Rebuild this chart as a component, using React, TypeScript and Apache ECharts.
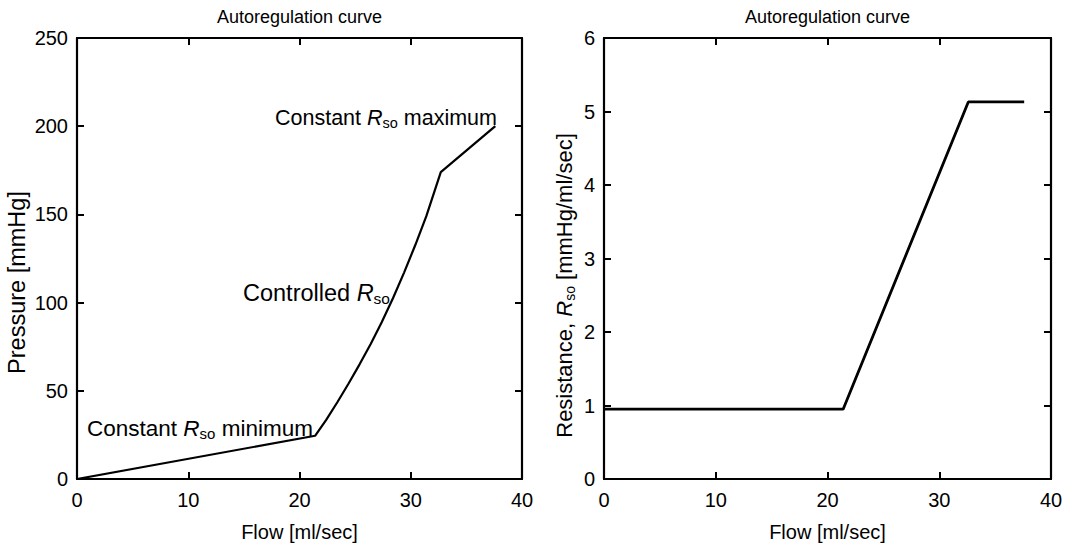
import React, { useEffect, useRef } from "react";
import * as echarts from "echarts";

const FLOW_LEFT = [0, 21.4, 22.4, 23.4, 24.4, 25.4, 26.4, 27.4, 28.4, 29.4, 30.4, 31.4, 32.7, 37.6];
const PRESSURE = [0, 24.5, 33.5, 43.5, 54, 65, 76.5, 89, 102.5, 117, 132.5, 149, 174, 200];
const FLOW_RIGHT = [0, 21.4, 32.6, 37.6];
const RESISTANCE = [0.95, 0.95, 5.13, 5.13];
const X_MIN = 0, X_MAX = 40, X_STEP = 10;
const P_MIN = 0, P_MAX = 250, P_STEP = 50;
const R_MIN = 0, R_MAX = 6, R_STEP = 1;
const TITLES = ["Autoregulation curve", "Autoregulation curve"];

const FONT = "'Liberation Sans', Arial, Helvetica, sans-serif";
const TICK_FS = 20;
const NAME_FS = 20;
const TITLE_FS = 18;

const makeRich = (fs: number, sub: number) => ({
  i: { fontStyle: "italic", fontSize: fs, fontFamily: FONT, color: "#000", lineHeight: fs + 4 },
  s: { fontSize: sub, fontFamily: FONT, color: "#000", lineHeight: sub + 1, verticalAlign: "bottom" },
  n: { fontSize: fs, fontFamily: FONT, color: "#000", lineHeight: fs + 4 },
});

function axisBase(extra: any) {
  return {
    axisLine: { show: true, onZero: false, lineStyle: { color: "#000", width: 2.2 } },
    axisTick: { show: true, inside: true, length: 7, lineStyle: { color: "#000", width: 2 } },
    splitLine: { show: false },
    ...extra,
  };
}

export default function App() {
  const ref = useRef<HTMLDivElement>(null);
  useEffect(() => {
    if (!ref.current) return;
    const chart = echarts.init(ref.current, undefined, { renderer: "svg" });
    const xa = (grid: number, pos: string, labels: boolean) =>
      axisBase({
        type: "value",
        gridIndex: grid,
        position: pos,
        min: X_MIN,
        max: X_MAX,
        interval: X_STEP,
        axisLabel: { show: labels, color: "#000", fontSize: TICK_FS, fontFamily: FONT, margin: 11 },
        name: labels ? "Flow [ml/sec]" : "",
        nameLocation: "middle",
        nameGap: 43,
        nameTextStyle: { color: "#000", fontSize: NAME_FS, fontFamily: FONT },
      });
    const ya = (
      grid: number, pos: string, labels: boolean, min: number, max: number, step: number,
      name: string, gap: number, fs: number, shift: number
    ) =>
      axisBase({
        type: "value",
        gridIndex: grid,
        position: pos,
        min,
        max,
        interval: step,
        axisLabel: { show: labels, color: "#000", fontSize: TICK_FS, fontFamily: FONT, margin: 9 },
        name: labels ? name : "",
        nameLocation: "middle",
        nameRotate: 90,
        nameGap: gap,
        nameTextStyle: {
          color: "#000",
          fontSize: fs,
          fontFamily: FONT,
          padding: [0, shift, 0, 0],
          rich: makeRich(fs, 14),
        },
      });
    const option: any = {
      animation: false,
      backgroundColor: "#fff",
      title: TITLES.map((t, i) => ({
        text: t,
        left: i === 0 ? 299.5 : 827.5,
        top: 8,
        textAlign: "center",
        padding: 0,
        textStyle: { color: "#000", fontSize: TITLE_FS, fontWeight: "normal", fontFamily: FONT },
      })),
      grid: [
        { left: 77, top: 38, width: 445, height: 442, show: false },
        { left: 604, top: 38, width: 447, height: 442, show: false },
      ],
      xAxis: [xa(0, "bottom", true), xa(0, "top", false), xa(1, "bottom", true), xa(1, "top", false)],
      yAxis: [
        ya(0, "left", true, P_MIN, P_MAX, P_STEP, "Pressure [mmHg]", 48, 23.5, 48),
        ya(0, "right", false, P_MIN, P_MAX, P_STEP, "", 0, 20, 0),
        ya(1, "left", true, R_MIN, R_MAX, R_STEP, "{n|Resistance, }{i|R}{s|so}{n| [mmHg/ml/sec]}", 27, 22, 54),
        ya(1, "right", false, R_MIN, R_MAX, R_STEP, "", 0, 20, 0),
      ],
      series: [
        {
          type: "line",
          xAxisIndex: 0,
          yAxisIndex: 0,
          data: FLOW_LEFT.map((q, i) => [q, PRESSURE[i]]),
          showSymbol: false,
          lineStyle: { color: "#000", width: 2.2 },
        },
        {
          type: "line",
          xAxisIndex: 2,
          yAxisIndex: 2,
          data: FLOW_RIGHT.map((q, i) => [q, RESISTANCE[i]]),
          showSymbol: false,
          lineStyle: { color: "#000", width: 2.8 },
        },
      ],
      graphic: [
        { type: "text", x: 497, y: 118, style: { text: "{n|Constant }{i|R}{s|so}{n| maximum}", rich: makeRich(21.5, 14.5), align: "right", verticalAlign: "middle" } },
        { type: "text", x: 243, y: 293, style: { text: "{n|Controlled }{i|R}{s|so}", rich: makeRich(23.5, 15.5), align: "left", verticalAlign: "middle" } },
        { type: "text", x: 87, y: 428, style: { text: "{n|Constant }{i|R}{s|so}{n| minimum}", rich: makeRich(22.5, 15), align: "left", verticalAlign: "middle" } },
      ],
    };
    chart.setOption(option);
    return () => chart.dispose();
  }, []);
  return (
    <div
      ref={ref}
      style={{ position: "fixed", left: 0, top: 0, width: 1067, height: 547, background: "#fff" }}
    />
  );
}
